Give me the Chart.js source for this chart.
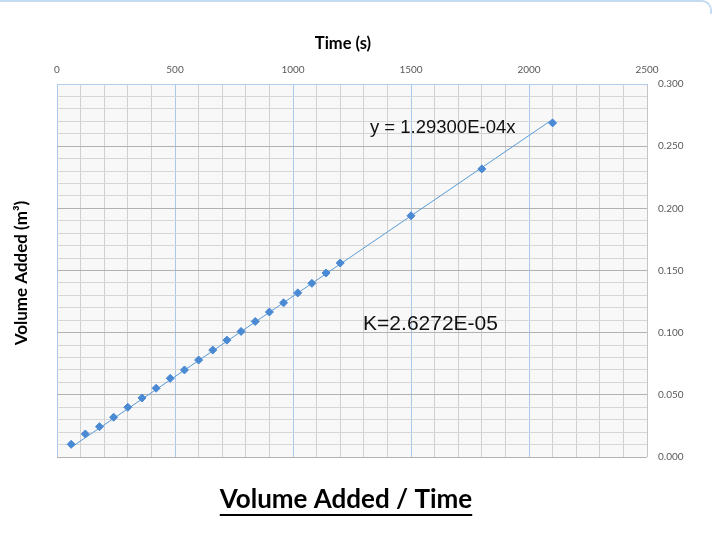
<!DOCTYPE html>
<html>
<head>
<meta charset="utf-8">
<script src="https://cdn.jsdelivr.net/npm/chart.js@4.4.1/dist/chart.umd.min.js"></script>
<style>
  html, body { margin: 0; padding: 0; background: #fff; }
  #wrap { position: relative; width: 713px; height: 533px; overflow: hidden; }
  #frame { position: absolute; left: -12px; top: 0; width: 724px; height: 14px;
           border-top: 2px solid #c4dbf0; border-right: 2px solid #c4dbf0;
           border-top-right-radius: 10px; box-sizing: border-box; }
  canvas { position: absolute; left: 0; top: 0; }
</style>
</head>
<body>
<div id="wrap">
  <canvas id="c" width="713" height="533"></canvas>
  <div id="frame"></div>
</div>
<script>
// Measured volume added (m³) against elapsed time (s)
const times = [60, 120, 180, 240, 300, 360, 420, 480, 540, 600, 660, 720,
               780, 840, 900, 960, 1020, 1080, 1140, 1200, 1500, 1800, 2100];
const volumes = [0.0102, 0.0185, 0.0244, 0.0320, 0.0400, 0.0475, 0.0553, 0.0633,
                 0.0700, 0.0780, 0.0860, 0.0940, 0.1010, 0.1090, 0.1166, 0.1240,
                 0.1320, 0.1397, 0.1480, 0.1560, 0.1940, 0.2317, 0.2687];

// Linear fit through the origin, and the derived constant
const slope = 1.293e-4;
const fitLabel = 'y = 1.29300E-04x';
const kLabel = 'K=2.6272E-05';

// Axis ranges and labelled ticks
const xRange = [0, 2500];
const xLabelled = [0, 500, 1000, 1500, 2000, 2500];
const yRange = [0, 0.3];
const yLabelled = ['0.000', '0.050', '0.100', '0.150', '0.200', '0.250', '0.300'];

const xTitle = 'Time (s)';
const yTitle = 'Volume Added (m³)';
const chartTitle = 'Volume Added / Time';

const points = times.map((t, i) => ({ x: t, y: volumes[i] }));
const tFirst = times[0], tLast = times[times.length - 1];
const fitLine = [{ x: tFirst, y: slope * tFirst }, { x: tLast, y: slope * tLast }];

const plotBackground = {
  id: 'plotBackground',
  beforeDraw(chart) {
    const { ctx, chartArea: a } = chart;
    ctx.save();
    ctx.fillStyle = '#f8f8f8';
    ctx.fillRect(a.left, a.top, a.right - a.left, a.bottom - a.top);
    ctx.restore();
  }
};

const extraText = {
  id: 'extraText',
  afterDraw(chart) {
    const { ctx, scales: { x, y } } = chart;
    ctx.save();
    ctx.fillStyle = '#111';
    ctx.textBaseline = 'middle';
    ctx.textAlign = 'left';
    ctx.font = '18.5px "Liberation Sans", Arial, sans-serif';
    ctx.fillText(fitLabel, x.getPixelForValue(1326), y.getPixelForValue(0.2647));
    ctx.font = '21px "Liberation Sans", Arial, sans-serif';
    ctx.fillText(kLabel, x.getPixelForValue(1297), y.getPixelForValue(0.107));

    // horizontal axis title above the tick labels
    ctx.fillStyle = '#000';
    ctx.textAlign = 'center';
    ctx.font = 'bold 16.5px Lato, sans-serif';
    ctx.fillText(xTitle, 343, 44);

    // vertical axis title on the left
    ctx.font = 'bold 17px Lato, sans-serif';
    ctx.translate(22, 273);
    ctx.rotate(-Math.PI / 2);
    ctx.fillText(yTitle, 0, 0);
    ctx.setTransform(1, 0, 0, 1, 0, 0);

    // underlined chart title below the plot
    ctx.font = 'bold 26px Lato, sans-serif';
    ctx.textAlign = 'center';
    ctx.fillText(chartTitle, 346, 500);
    const w = ctx.measureText(chartTitle).width;
    ctx.strokeStyle = '#000';
    ctx.lineWidth = 1.8;
    ctx.beginPath();
    ctx.moveTo(346 - w / 2, 515);
    ctx.lineTo(346 + w / 2, 515);
    ctx.stroke();
    ctx.restore();
  }
};

new Chart(document.getElementById('c'), {
  type: 'scatter',
  data: {
    datasets: [
      {
        type: 'line',
        label: 'Linear fit',
        data: fitLine,
        borderColor: '#5b9bd5',
        borderWidth: 1,
        pointRadius: 0,
        fill: false,
        order: 2
      },
      {
        label: 'Volume added',
        data: points,
        pointStyle: 'rectRot',
        pointRadius: 4,
        backgroundColor: '#4a89d3',
        borderColor: '#4a89d3',
        borderWidth: 1,
        showLine: false,
        order: 1
      }
    ]
  },
  options: {
    responsive: false,
    animation: false,
    layout: { padding: { left: 57, right: 0, top: 0, bottom: 76 } },
    plugins: { legend: { display: false }, tooltip: { enabled: false } },
    scales: {
      x: {
        type: 'linear',
        position: 'top',
        min: xRange[0],
        max: xRange[1],
        afterFit: s => { s.height = 84; },
        ticks: {
          stepSize: 100,
          autoSkip: false,
          maxRotation: 0,
          padding: 8,
          color: '#595959',
          font: { family: 'Lato', size: 10 },
          callback: v => (xLabelled.includes(v) ? String(v) : '')
        },
        grid: {
          drawTicks: false,
          lineWidth: 1,
          color: c => {
            const v = c.tick.value;
            if (v === xRange[1]) return '#c4c4c4';
            return v % 500 === 0 ? '#a9c8ea' : '#d0d0d0';
          }
        },
        border: { display: false },
        title: { display: false }
      },
      y: {
        position: 'right',
        min: yRange[0],
        max: yRange[1],
        afterFit: s => { s.width = 66; },
        ticks: {
          stepSize: 0.01,
          autoSkip: false,
          padding: 11,
          color: '#595959',
          font: { family: 'Lato', size: 10 },
          callback: v => {
            const k = Math.round(v * 100);
            return k % 5 === 0 ? yLabelled[k / 5] : '';
          }
        },
        grid: {
          drawTicks: false,
          lineWidth: 1,
          color: c => {
            const k = Math.round(c.tick.value * 100);
            if (k === 30) return '#b4cfec';
            return k % 5 === 0 ? '#b2b2b2' : '#d6d6d6';
          }
        },
        border: { display: false }
      }
    }
  },
  plugins: [plotBackground, extraText]
});
</script>
</body>
</html>
